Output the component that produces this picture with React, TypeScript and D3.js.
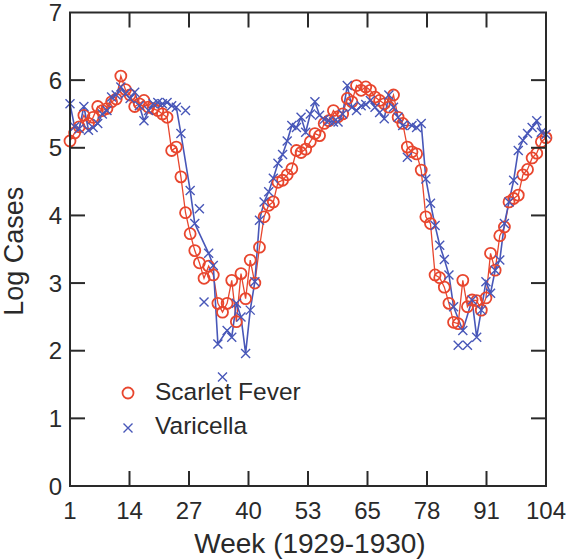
import React from "react";
import * as d3 from "d3";

const weeks: number[] = d3.range(1, 105);

const scarletFever: number[] = [
  5.10, 5.22, 5.31, 5.48, 5.36, 5.45, 5.61, 5.55, 5.58, 5.68,
  5.72, 6.06, 5.86, 5.78, 5.61, 5.65, 5.70, 5.60, 5.58, 5.55,
  5.50, 5.45, 4.96, 5.01, 4.57, 4.04, 3.73, 3.48, 3.30, 3.07,
  3.25, 3.12, 2.70, 2.57, 2.70, 3.04, 2.43, 3.14, 2.77, 3.34,
  3.00, 3.53, 3.98, 4.15, 4.20, 4.49, 4.52, 4.60, 4.69, 4.96,
  4.93, 4.98, 5.09, 5.21, 5.18, 5.36, 5.40, 5.55, 5.46, 5.50,
  5.73, 5.68, 5.92, 5.85, 5.90, 5.85, 5.75, 5.70, 5.65, 5.60,
  5.78, 5.45, 5.36, 5.01, 4.94, 4.91, 4.67, 3.98, 3.88, 3.12,
  3.08, 2.94, 2.70, 2.42, 2.40, 3.04, 2.65, 2.75, 2.74, 2.60,
  2.78, 3.44, 3.19, 3.70, 3.83, 4.20, 4.25, 4.30, 4.60, 4.68,
  4.85, 4.92, 5.09, 5.15,
];

const varicella: number[] = [
  5.65, 5.31, 5.28, 5.61, 5.26, 5.30, 5.36, 5.50, 5.55, 5.75,
  5.78, 5.90, 5.80, 5.73, 5.82, 5.62, 5.40, 5.55, 5.65, 5.67,
  5.65, 5.67, 5.62, 5.60, 5.21, 5.55, 4.37, 3.88, 4.10, 2.72,
  3.44, 3.26, 2.10, 1.61, 2.30, 2.20, 2.70, 2.50, 1.96, 2.60,
  3.02, 3.93, 4.20, 4.35, 4.55, 4.77, 4.90, 5.10, 5.33, 5.30,
  5.45, 5.23, 5.50, 5.68, 5.48, 5.42, 5.40, 5.38, 5.38, 5.50,
  5.92, 5.60, 5.55, 5.62, 5.64, 5.70, 5.60, 5.52, 5.43, 5.78,
  5.60, 5.45, 5.33, 4.86, 5.33, 5.30, 5.36, 4.54, 4.18, 3.85,
  3.56, 3.35, 3.12, 2.65, 2.08, 2.30, 2.08, 2.75, 2.20, 2.60,
  3.02, 2.85, 3.19, 3.34, 3.88, 4.20, 4.52, 4.96, 5.11, 5.21,
  5.30, 5.40, 5.23, 5.20,
];

// weeks whose varicella markers sit off the drawn connecting line
const varicellaOffLine: number[] = [26, 29, 30, 34, 74, 85, 87];

const xTickLabels: string[] = ["1", "14", "27", "40", "53", "65", "78", "91", "104"];
const yTickValues: number[] = [0, 1, 2, 3, 4, 5, 6, 7];

const seriesNames: string[] = ["Scarlet Fever", "Varicella"];

const RED = "#e8462e";
const BLUE = "#4857b8";
const AXIS = "#2a2a2a";
const FONT = "'Liberation Sans', Arial, Helvetica, sans-serif";

export default function App() {
  const W = 566;
  const H = 560;
  const left = 70;
  const right = 546;
  const top = 12.5;
  const bottom = 486;

  const x = d3.scaleLinear().domain([1, 104]).range([left, right]);
  const y = d3.scaleLinear().domain([0, 7]).range([bottom, top]);

  const xTickPos = xTickLabels.map((_, i) => 1 + (i * (104 - 1)) / (xTickLabels.length - 1));

  const redPts = weeks.map((w, i) => [x(w), y(scarletFever[i])] as [number, number]);
  const bluePts = weeks.map((w, i) => [x(w), y(varicella[i])] as [number, number]);
  const blueLinePts = bluePts.filter((_, i) => !varicellaOffLine.includes(weeks[i]));

  const line = d3.line<[number, number]>().x((d) => d[0]).y((d) => d[1]);

  const tickLen = 15;

  const circle = (cx: number, cy: number, key: string | number) => (
    <circle key={key} cx={cx} cy={cy} r={5.5} fill="none" stroke={RED} strokeWidth={1.8} />
  );
  const cross = (cx: number, cy: number, key: string | number) => (
    <path
      key={key}
      d={`M${cx - 4.5},${cy - 4.5}L${cx + 4.5},${cy + 4.5}M${cx - 4.5},${cy + 4.5}L${cx + 4.5},${cy - 4.5}`}
      stroke={BLUE}
      strokeWidth={1.4}
      fill="none"
    />
  );

  return (
    <svg
      width={W}
      height={H}
      style={{ position: "absolute", left: 0, top: 0, background: "#fff" }}
      fontFamily={FONT}
    >
      <rect x={0} y={0} width={W} height={H} fill="#fff" />

      {/* data lines */}
      <path d={line(redPts) || ""} fill="none" stroke={RED} strokeWidth={1.3} />
      <path d={line(blueLinePts) || ""} fill="none" stroke={BLUE} strokeWidth={1.6} />

      {/* markers */}
      {redPts.map((p, i) => circle(p[0], p[1], "r" + i))}
      {bluePts.map((p, i) => cross(p[0], p[1], "b" + i))}

      {/* frame */}
      <rect x={left} y={top} width={right - left} height={bottom - top} fill="none" stroke={AXIS} strokeWidth={2} />

      {/* x ticks */}
      {xTickPos.map((v, i) => (
        <g key={"xt" + i}>
          {i > 0 && i < xTickPos.length - 1 && (
            <>
              <line x1={x(v)} x2={x(v)} y1={bottom} y2={bottom - tickLen} stroke={AXIS} strokeWidth={2} />
              <line x1={x(v)} x2={x(v)} y1={top} y2={top + tickLen} stroke={AXIS} strokeWidth={2} />
            </>
          )}
          <text x={x(v)} y={519} textAnchor="middle" fontSize={24} fill={AXIS}>
            {xTickLabels[i]}
          </text>
        </g>
      ))}

      {/* y ticks */}
      {yTickValues.map((v) => (
        <g key={"yt" + v}>
          {v > 0 && v < 7 && (
            <>
              <line x1={left} x2={left + tickLen} y1={y(v)} y2={y(v)} stroke={AXIS} strokeWidth={2} />
              <line x1={right} x2={right - tickLen} y1={y(v)} y2={y(v)} stroke={AXIS} strokeWidth={2} />
            </>
          )}
          <text x={62} y={y(v)} dy="0.36em" textAnchor="end" fontSize={24} fill={AXIS}>
            {v}
          </text>
        </g>
      ))}

      {/* axis titles */}
      <text x={(left + right) / 2 + 2} y={553} textAnchor="middle" fontSize={28} fill={AXIS}>
        Week (1929-1930)
      </text>
      <text
        transform={`translate(23, ${(top + bottom) / 2 + 2}) rotate(-90)`}
        textAnchor="middle"
        fontSize={27}
        fill={AXIS}
      >
        Log Cases
      </text>

      {/* legend */}
      {circle(128, 393, "lg-r")}
      <text x={155} y={400} fontSize={24.5} fill={AXIS}>
        {seriesNames[0]}
      </text>
      {cross(128, 428, "lg-b")}
      <text x={155} y={433.5} fontSize={24.5} fill={AXIS}>
        {seriesNames[1]}
      </text>
    </svg>
  );
}
